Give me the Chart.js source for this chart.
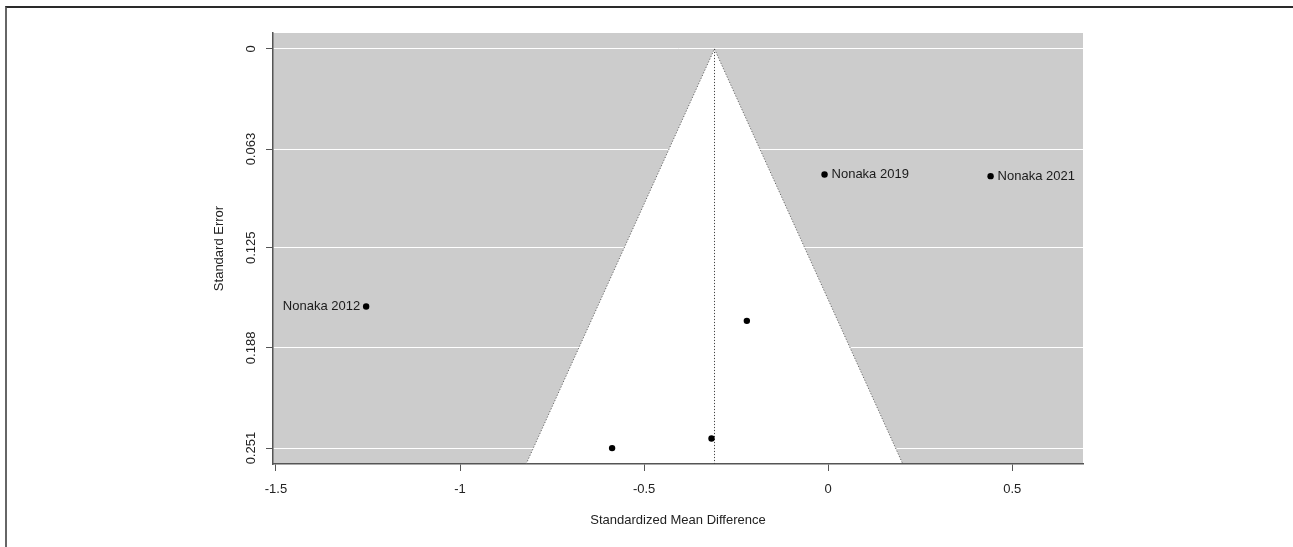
<!DOCTYPE html>
<html>
<head>
<meta charset="utf-8">
<script src="https://cdn.jsdelivr.net/npm/chart.js@4/dist/chart.umd.min.js"></script>
<style>
  html, body { margin: 0; padding: 0; background: #fff; }
  #wrap { position: relative; width: 1293px; height: 547px; overflow: hidden; }
  #frame { position: absolute; left: 5px; top: 6px; right: -4px; bottom: -4px;
           border-top: 2px solid #2a2a2a; border-left: 2px solid #666; pointer-events: none; }
  canvas { display: block; }
</style>
</head>
<body>
<div id="wrap">
  <canvas id="funnel" width="1293" height="547"></canvas>
  <div id="frame"></div>
</div>
<script>
// Study effect sizes (standardized mean difference) and their standard errors
const studyLabels = ["Nonaka 2012", "Nonaka 2019", "Nonaka 2021", "", "", ""];
const smdValues   = [-1.255, -0.010, 0.441, -0.221, -0.317, -0.587];
const seValues    = [0.162, 0.079, 0.080, 0.171, 0.245, 0.251];

// Pooled estimate and the pseudo 95% confidence multiplier for the funnel
const pooledEstimate = -0.309;
const zCrit = 1.96;

// Axis ticks
const xTickValues = [-1.5, -1, -0.5, 0, 0.5];
const xTickLabels = ["-1.5", "-1", "-0.5", "0", "0.5"];
const seTickValues = [0, 0.063, 0.125, 0.188, 0.251];
const seTickLabels = ["0", "0.063", "0.125", "0.188", "0.251"];

const FONT = "'Liberation Sans', Arial, sans-serif";
const AXIS_COLOR = "#555";

// Gray background with the white pseudo-confidence funnel
const funnelBackground = {
  id: "funnelBackground",
  beforeDraw(chart) {
    const { ctx, chartArea: a, scales: { x, y } } = chart;
    const seMax = y.max;
    ctx.save();
    ctx.beginPath();
    ctx.rect(a.left, a.top, a.right - a.left, a.bottom - a.top);
    ctx.clip();
    ctx.fillStyle = "#cccccc";
    ctx.fillRect(a.left, a.top, a.right - a.left, a.bottom - a.top);
    ctx.fillStyle = "#ffffff";
    ctx.beginPath();
    ctx.moveTo(x.getPixelForValue(pooledEstimate - zCrit * seMax), y.getPixelForValue(seMax));
    ctx.lineTo(x.getPixelForValue(pooledEstimate), y.getPixelForValue(0));
    ctx.lineTo(x.getPixelForValue(pooledEstimate + zCrit * seMax), y.getPixelForValue(seMax));
    ctx.closePath();
    ctx.fill();
    ctx.restore();
  },
  beforeDatasetsDraw(chart) {
    const { ctx, chartArea: a, scales: { x, y } } = chart;
    const seMax = y.max;
    ctx.save();
    ctx.beginPath();
    ctx.rect(a.left, a.top, a.right - a.left, a.bottom - a.top);
    ctx.clip();
    ctx.lineWidth = 1;
    ctx.setLineDash([1.2, 1.8]);
    // funnel edges
    ctx.strokeStyle = "#666";
    ctx.beginPath();
    ctx.moveTo(x.getPixelForValue(pooledEstimate - zCrit * seMax), y.getPixelForValue(seMax));
    ctx.lineTo(x.getPixelForValue(pooledEstimate), y.getPixelForValue(0));
    ctx.lineTo(x.getPixelForValue(pooledEstimate + zCrit * seMax), y.getPixelForValue(seMax));
    ctx.stroke();
    // reference line at the pooled estimate
    ctx.strokeStyle = "#444";
    ctx.beginPath();
    const px = Math.round(x.getPixelForValue(pooledEstimate)) + 0.5;
    ctx.moveTo(px, y.getPixelForValue(0));
    ctx.lineTo(px, y.getPixelForValue(seMax));
    ctx.stroke();
    ctx.restore();
  }
};

// Study names beside their points, on the side away from the pooled estimate
const studyNames = {
  id: "studyNames",
  afterDatasetsDraw(chart) {
    const { ctx } = chart;
    const meta = chart.getDatasetMeta(0);
    ctx.save();
    ctx.font = "13px " + FONT;
    ctx.fillStyle = "#1a1a1a";
    ctx.textBaseline = "middle";
    meta.data.forEach((pt, i) => {
      const name = studyLabels[i];
      if (!name) return;
      if (smdValues[i] < pooledEstimate) {
        ctx.textAlign = "right";
        ctx.fillText(name, pt.x - 6, pt.y);
      } else {
        ctx.textAlign = "left";
        ctx.fillText(name, pt.x + 7, pt.y);
      }
    });
    ctx.restore();
  }
};

new Chart(document.getElementById("funnel"), {
  type: "scatter",
  data: {
    datasets: [{
      data: smdValues.map((v, i) => ({ x: v, y: seValues[i] })),
      backgroundColor: "#000",
      borderColor: "#000",
      pointRadius: 3.2,
      pointHoverRadius: 3.2,
      borderWidth: 0
    }]
  },
  options: {
    responsive: false,
    animation: false,
    devicePixelRatio: 1,
    layout: { padding: { left: 0, top: 33, right: 210, bottom: 0 } },
    plugins: { legend: { display: false }, tooltip: { enabled: false } },
    scales: {
      x: {
        type: "linear",
        min: -1.508,
        max: 0.692,
        afterFit(scale) { scale.height = 83; },
        afterBuildTicks(scale) { scale.ticks = xTickValues.map(v => ({ value: v })); },
        border: { display: true, color: AXIS_COLOR, width: 1.5 },
        grid: { drawOnChartArea: false, drawTicks: true, tickLength: 7, tickColor: AXIS_COLOR, tickWidth: 1 },
        ticks: {
          padding: 11,
          color: "#222",
          font: { family: FONT, size: 13 },
          maxRotation: 0, minRotation: 0,
          callback: (v) => xTickLabels[xTickValues.indexOf(v)]
        },
        title: {
          display: true,
          text: "Standardized Mean Difference",
          color: "#222",
          font: { family: FONT, size: 13 },
          padding: { top: 0, bottom: 19 }
        }
      },
      y: {
        type: "linear",
        reverse: true,
        min: -0.0100,
        max: 0.2610,
        afterFit(scale) { scale.width = 273; },
        afterBuildTicks(scale) { scale.ticks = seTickValues.map(v => ({ value: v })); },
        border: { display: true, color: AXIS_COLOR, width: 1.5 },
        grid: { color: "#ffffff", lineWidth: 1, drawTicks: true, tickLength: 7, tickColor: AXIS_COLOR, tickWidth: 1 },
        ticks: {
          padding: -2,
          color: "#222",
          font: { family: FONT, size: 13 },
          minRotation: 90, maxRotation: 90,
          crossAlign: "center",
          callback: (v) => seTickLabels[seTickValues.indexOf(v)]
        },
        title: {
          display: true,
          text: "Standard Error",
          color: "#222",
          font: { family: FONT, size: 13 },
          padding: { top: 212, bottom: 0 }
        }
      }
    }
  },
  plugins: [funnelBackground, studyNames]
});
</script>
</body>
</html>
